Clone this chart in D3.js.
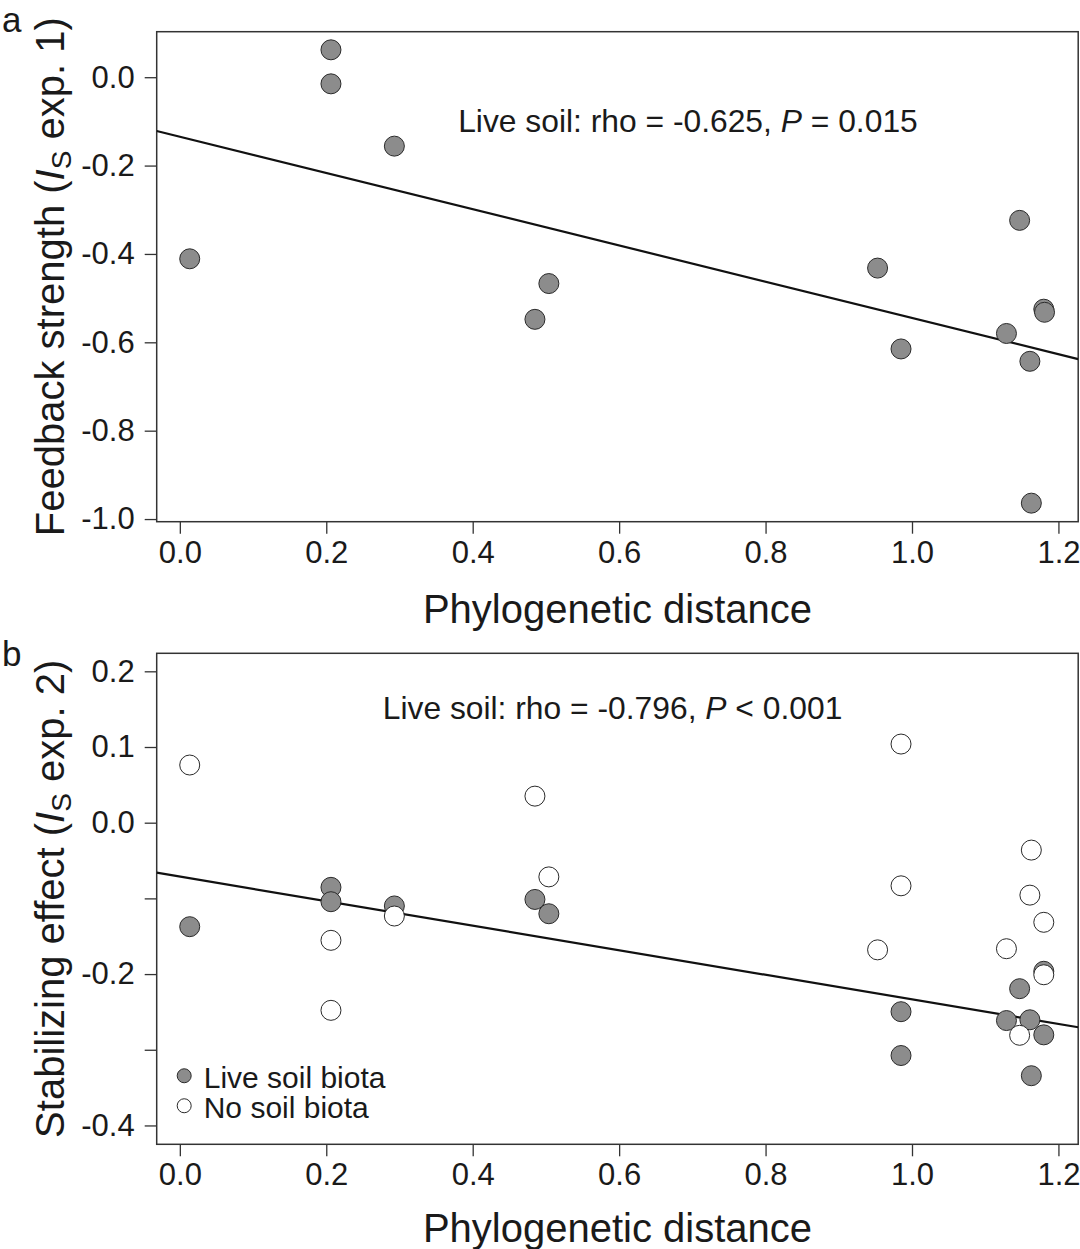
<!DOCTYPE html>
<html><head><meta charset="utf-8">
<script src="https://cdn.jsdelivr.net/npm/d3@7"></script>
<style>
body{margin:0;background:#fff}
text{font-family:"Liberation Sans",Arial,sans-serif;fill:#1a1a1a}
</style>
</head><body>
<svg id="chart" width="1080" height="1249"></svg>
<script>
// ---------- data ----------
const xTicks = [0, 0.2, 0.4, 0.6, 0.8, 1.0, 1.2];
const xTickLabels = ["0.0", "0.2", "0.4", "0.6", "0.8", "1.0", "1.2"];
const yTicksA = [0, -0.2, -0.4, -0.6, -0.8, -1.0];
const yTickLabelsA = ["0.0", "-0.2", "-0.4", "-0.6", "-0.8", "-1.0"];
const yTicksB = [0.2, 0.1, 0, -0.1, -0.2, -0.3, -0.4];
const yTickLabelsB = ["0.2", "0.1", "0.0", "", "-0.2", "", "-0.4"];

// panel a: live soil feedback strength (exp. 1)
const distA     = [0.0135, 0.2064, 0.2064, 0.293, 0.485, 0.504, 0.953, 0.985, 1.129, 1.147, 1.161, 1.163, 1.180, 1.181];
const feedbackA = [-0.411, 0.062, -0.015, -0.156, -0.548, -0.467, -0.432, -0.615, -0.580, -0.324, -0.643, -0.964, -0.525, -0.532];

// panel b: stabilizing effect (exp. 2)
const distLive = [0.0135, 0.2064, 0.2064, 0.293, 0.485, 0.504, 0.985, 0.985, 1.129, 1.147, 1.161, 1.163, 1.180, 1.180];
const stabLive = [-0.1374, -0.0854, -0.1044, -0.110, -0.1014, -0.1203, -0.2497, -0.3076, -0.2614, -0.2193, -0.2604, -0.3343, -0.1963, -0.2803];
const distNo   = [0.0135, 0.2064, 0.2064, 0.293, 0.485, 0.504, 0.953, 0.985, 0.985, 1.129, 1.147, 1.161, 1.163, 1.180, 1.180];
const stabNo   = [0.0762, -0.1554, -0.2479, -0.1233, 0.0351, -0.0716, -0.168, 0.1039, -0.0834, -0.1665, -0.2809, -0.0957, -0.0362, -0.1316, -0.2009];

// fitted lines (intercept, slope)
const fitA = [-0.1346, -0.4103];
const fitB = [-0.0712, -0.1622];

const statA = ["Live soil: rho = -0.625, ", "P", " = 0.015"];
const statB = ["Live soil: rho = -0.796, ", "P", " < 0.001"];
const legendLabels = ["Live soil biota", "No soil biota"];

// ---------- layout ----------
const svg = d3.select("#chart");
const L = 156.7, R = 1078.2;
const xDomain = [-0.0316, 1.227];
const FILL = "#8c8c8c", STROKE = "#2a2a2a", AX = "#333";

function panel(opts) {
  const g = svg.append("g");
  const x = d3.scaleLinear().domain(xDomain).range([L, R]);
  const y = d3.scaleLinear().domain(opts.yDomain).range([opts.bottom, opts.top]);

  const clipId = "clip" + opts.id;
  svg.append("clipPath").attr("id", clipId).append("rect")
    .attr("x", L).attr("y", opts.top).attr("width", R - L).attr("height", opts.bottom - opts.top);

  // axes
  const xa = g.append("g").attr("transform", `translate(0,${opts.bottom})`)
    .call(d3.axisBottom(x).tickValues(xTicks).tickSize(12).tickPadding(7)
      .tickFormat((d, i) => xTickLabels[i]));
  const ya = g.append("g").attr("transform", `translate(${L},0)`)
    .call(d3.axisLeft(y).tickValues(opts.yTicks).tickSize(12).tickPadding(10)
      .tickFormat((d, i) => opts.yLabels[i]));
  [xa, ya].forEach(a => {
    a.select(".domain").remove();
    a.selectAll("line").attr("stroke", AX).attr("stroke-width", 1.3);
    a.selectAll("text").attr("font-size", 31).attr("fill", "#1a1a1a")
      .attr("font-family", '"Liberation Sans",Arial,sans-serif');
  });

  // frame
  g.append("rect").attr("x", L).attr("y", opts.top).attr("width", R - L)
    .attr("height", opts.bottom - opts.top).attr("fill", "none")
    .attr("stroke", AX).attr("stroke-width", 1.5);

  // regression line
  const line = d3.line().x(d => x(d)).y(d => y(opts.fit[0] + opts.fit[1] * d));
  g.append("path").attr("clip-path", `url(#${clipId})`)
    .attr("d", line(xDomain)).attr("fill", "none")
    .attr("stroke", "#111").attr("stroke-width", 2.2);

  // points
  opts.series.forEach(s => {
    g.append("g").selectAll("circle").data(s.xs).join("circle")
      .attr("cx", d => x(d)).attr("cy", (d, i) => y(s.ys[i])).attr("r", 10)
      .attr("fill", s.fill).attr("stroke", STROKE).attr("stroke-width", 1);
  });

  // stat annotation
  const t = g.append("text").attr("x", x(opts.stat.x)).attr("y", y(opts.stat.y))
    .attr("text-anchor", "middle").attr("dominant-baseline", "central").attr("font-size", 31.8);
  t.append("tspan").text(opts.stat.txt[0]);
  t.append("tspan").attr("font-style", "italic").text(opts.stat.txt[1]);
  t.append("tspan").text(opts.stat.txt[2]);

  // x title
  g.append("text").attr("x", (L + R) / 2).attr("y", opts.bottom + opts.xTitleDy)
    .attr("text-anchor", "middle").attr("font-size", 40).text("Phylogenetic distance");

  // y title
  const yt = g.append("text")
    .attr("transform", `translate(63.7,${(opts.top + opts.bottom) / 2}) rotate(-90)`)
    .attr("text-anchor", "middle").attr("font-size", 40);
  yt.append("tspan").text(opts.yTitle[0]);
  yt.append("tspan").attr("font-style", "italic").text("I");
  yt.append("tspan").attr("font-size", 28).attr("dy", 7).text("S");
  yt.append("tspan").attr("dy", -7).text(opts.yTitle[1]);

  // panel letter
  svg.append("text").attr("x", 2).attr("y", opts.letterY)
    .attr("font-family", '"Liberation Serif","Times New Roman",serif')
    .attr("font-size", 35).text(opts.letter);

  return {g, x, y};
}

panel({
  id: "a", top: 31.7, bottom: 521.7, yDomain: [-1.006, 0.103],
  yTicks: yTicksA, yLabels: yTickLabelsA, fit: fitA,
  series: [{xs: distA, ys: feedbackA, fill: FILL}],
  stat: {x: 0.694, y: -0.1, txt: statA},
  xTitleDy: 101.6, yTitle: ["Feedback strength (", " exp. 1)"],
  letter: "a", letterY: 31.5
});

const pb = panel({
  id: "b", top: 653.3, bottom: 1144.3, yDomain: [-0.4249, 0.2238],
  yTicks: yTicksB, yLabels: yTickLabelsB, fit: fitB,
  series: [{xs: distLive, ys: stabLive, fill: FILL}, {xs: distNo, ys: stabNo, fill: "#fff"}],
  stat: {x: 0.591, y: 0.1515, txt: statB},
  xTitleDy: 97.4, yTitle: ["Stabilizing effect (", " exp. 2)"],
  letter: "b", letterY: 666
});

// legend (panel b)
const lg = pb.g.append("g").attr("transform", `translate(${L + 27.5},${pb.y(-0.3)+26})`);
const fills = [FILL, "#fff"];
legendLabels.forEach((lab, i) => {
  lg.append("circle").attr("cx", 0).attr("cy", i * 30).attr("r", 7)
    .attr("fill", fills[i]).attr("stroke", STROKE).attr("stroke-width", 1);
  lg.append("text").attr("x", 19.5).attr("y", i * 30 + 12.3).attr("font-size", 30).text(lab);
});
</script>
</body></html>
